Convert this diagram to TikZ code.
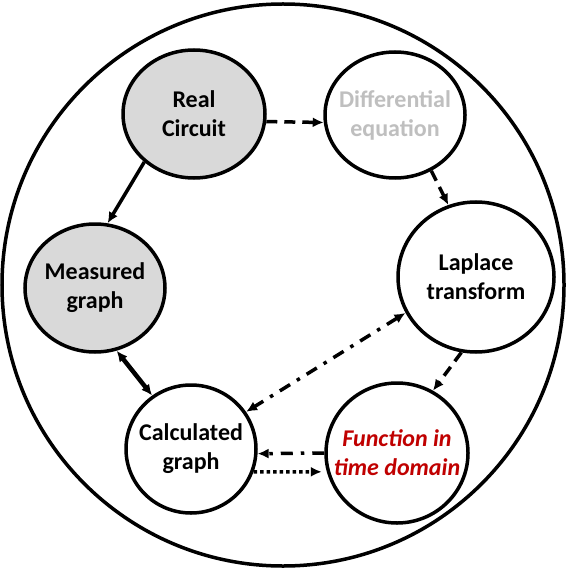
\documentclass[tikz,border=0pt]{standalone}
\usepackage{fontspec}
\setmainfont{Carlito}
\usetikzlibrary{shapes.geometric,arrows.meta}
\definecolor{shade}{HTML}{D9D9D9}
\definecolor{fadedtext}{HTML}{BFBFBF}
\definecolor{timered}{HTML}{C00000}
\begin{document}
\begin{tikzpicture}[x=1pt,y=-1pt,
  stage/.style={ellipse, draw, line width=3.5pt, inner sep=0pt, fill=white},
  measuredstage/.style={stage, fill=shade},
  stagetext/.style={align=center, inner sep=0pt,
    font=\fontsize{24}{29}\selectfont\bfseries},
  tip/.style={-{Latex[length=11pt,width=10pt]}},
  twotips/.style={{Latex[length=11pt,width=10pt]}-{Latex[length=11pt,width=10pt]}},
  conn/.style={line width=3.5pt},
  longdash/.style={dash pattern=on 11pt off 7pt},
  dashdot/.style={dash pattern=on 12pt off 8pt on 3.5pt off 8pt},
  dots/.style={dash pattern=on 3.5pt off 3pt}
]
\useasboundingbox (0,0) rectangle (567,569);

% enclosing circle
\node[circle, draw, line width=3.5pt, minimum size=562pt, inner sep=0pt] (frame) at (283,285) {};

% stages of the analysis
\node[measuredstage, minimum width=142pt, minimum height=128pt,
  label={[stagetext]center:Real\\Circuit}] (real) at (194,114) {};
\node[stage, minimum width=140pt, minimum height=126pt,
  label={[stagetext, text=fadedtext]center:Differential\\equation}] (diff) at (395,115) {};
\node[stage, minimum width=156pt, minimum height=150pt,
  label={[stagetext]center:Laplace\\transform}] (lap) at (476,277) {};
\node[measuredstage, minimum width=140pt, minimum height=128pt,
  label={[stagetext]center:Measured\\graph}] (meas) at (95,288) {};
\node[stage, minimum width=130pt, minimum height=128pt,
  label={[stagetext]center:Calculated\\graph}] (calc) at (191,449) {};
\node[stage, minimum width=142pt, minimum height=140pt,
  label={[stagetext, text=timered, font=\fontsize{24}{29}\selectfont\bfseries\itshape]center:Function in\\time domain}] (func) at (397,453) {};

% connectors
\draw[conn, tip] (real.224) -- (meas.79);
\draw[conn, tip, longdash] (real.354) -- (diff.186);
\draw[conn, tip, longdash] (diff.-57) -- (lap.111);
\draw[conn, tip, longdash] (lap.259) -- (func.60);
\draw[conn, twotips, dashdot] (lap.207) -- (calc.34);
\draw[line width=4.5pt, twotips] (meas.-71) -- (calc.126);
\draw[conn, tip, dashdot] (func.west) -- (calc.-4);
\draw[conn, tip, dots, shorten >=5pt] (calc.-20) -- (func.195);
\end{tikzpicture}
\end{document}
